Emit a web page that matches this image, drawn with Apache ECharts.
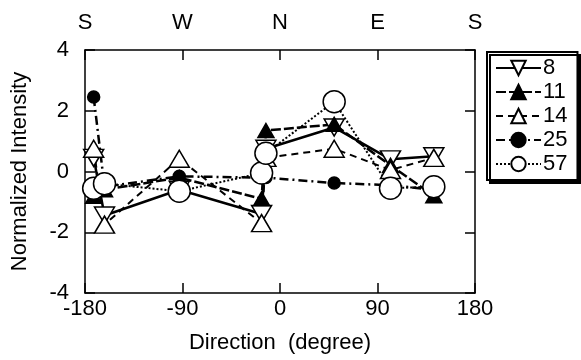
<!DOCTYPE html>
<html>
<head>
<meta charset="utf-8">
<script src="https://cdn.jsdelivr.net/npm/echarts@6/dist/echarts.min.js"></script>
<style>
  html, body { margin: 0; padding: 0; background: #fff; }
  #chart { width: 581px; height: 360px; }
</style>
</head>
<body>
<div id="chart"></div>
<script>
// --- data ---
// two close directions near -15 give the stacked column there
const directions = [-172, -162, -93, -17, -13, 50, 102, 142]
const compass = ['S', 'W', 'N', 'E', 'S']
const yTicks = [-4, -2, 0, 2, 4]

const s8 = [0.45, -1.45, -0.6, -1.4, 0.75, 1.45, 0.4, 0.5]
const s11 = [-0.82, -0.6, -0.2, -0.9, 1.35, 1.55, 0.2, -0.8]
const s14 = [0.75, -1.75, 0.42, -1.7, 0.45, 0.75, 0.05, 0.45]
const s25 = [2.45, -0.5, -0.16, -0.2, -0.2, -0.38, -0.45, -0.6]
const s57 = [-0.55, -0.4, -0.65, -0.05, 0.6, 2.3, -0.55, -0.5]

const FONT = 'Liberation Sans'
const DOWN_TRI = 'path://M0,0 L10,0 L5,9 Z'

// pair each value with its direction
function pairs(vals) {
  return vals.map((v, i) => [directions[i], v])
}

function lineSeries(name, vals, symbol, size, filled, lineType, width) {
  return {
    name: name,
    type: 'line',
    data: pairs(vals),
    symbol: symbol,
    symbolSize: size,
    showAllSymbol: true,
    lineStyle: { color: '#000', width: width, type: lineType },
    itemStyle: {
      color: filled ? '#000' : '#fff',
      borderColor: '#000',
      borderWidth: 1.5
    },
    emphasis: { disabled: true },
    z: 3
  }
}

const chart = echarts.init(document.getElementById('chart'))

const axisCommon = {
  type: 'value',
  min: -180,
  max: 180,
  interval: 90,
  axisLine: { show: true, onZero: false, lineStyle: { color: '#000', width: 1.5 } },
  axisTick: { show: true, inside: true, length: 10, lineStyle: { color: '#000', width: 1.5 } },
  splitLine: { show: false }
}

chart.setOption({
  animation: false,
  backgroundColor: '#fff',
  grid: { left: 85, right: 106, top: 50, bottom: 67 },
  xAxis: [
    Object.assign({}, axisCommon, {
      position: 'bottom',
      name: 'Direction  (degree)',
      nameLocation: 'middle',
      nameGap: 39,
      nameTextStyle: { fontFamily: FONT, fontSize: 22, color: '#000' },
      axisLabel: { fontFamily: FONT, fontSize: 22, color: '#000', margin: 5 }
    }),
    Object.assign({}, axisCommon, {
      position: 'top',
      axisLabel: {
        fontFamily: FONT, fontSize: 22, color: '#000', margin: 16,
        formatter: v => compass[(v + 180) / 90]
      }
    })
  ],
  yAxis: [
    {
      type: 'value',
      min: yTicks[0],
      max: yTicks[yTicks.length - 1],
      interval: 2,
      name: 'Normalized Intensity',
      nameLocation: 'middle',
      nameGap: 54,
      nameTextStyle: { fontFamily: FONT, fontSize: 22, color: '#000' },
      axisLine: { show: true, onZero: false, lineStyle: { color: '#000', width: 1.5 } },
      axisTick: { show: true, inside: true, length: 10, lineStyle: { color: '#000', width: 1.5 } },
      axisLabel: { fontFamily: FONT, fontSize: 22, color: '#000', margin: 16 },
      splitLine: { show: false }
    },
    {
      type: 'value',
      position: 'right',
      min: yTicks[0],
      max: yTicks[yTicks.length - 1],
      interval: 2,
      axisLine: { show: true, onZero: false, lineStyle: { color: '#000', width: 1.5 } },
      axisTick: { show: true, inside: true, length: 10, lineStyle: { color: '#000', width: 1.5 } },
      axisLabel: { show: false },
      splitLine: { show: false }
    }
  ],
  legend: {
    orient: 'vertical',
    left: 487,
    top: 52,
    padding: [5, 10, 5, 8],
    itemWidth: 45,
    itemHeight: 18,
    itemGap: 2,
    backgroundColor: '#fff',
    borderColor: '#000',
    borderWidth: 2,
    shadowColor: '#000',
    shadowOffsetX: 3,
    shadowOffsetY: 3,
    shadowBlur: 0,
    textStyle: { fontFamily: FONT, fontSize: 22, lineHeight: 18, color: '#000', padding: [0, 0, 0, -3] },
    data: ['8', '11', '14', '25', '57']
  },
  series: [
    lineSeries('8', s8, DOWN_TRI, [20, 17], false, 'solid', 2.5),
    lineSeries('11', s11, 'triangle', [16, 14], true, [10, 3], 2.5),
    lineSeries('14', s14, 'triangle', [20, 17], false, [7, 5], 2),
    lineSeries('25', s25, 'circle', 12, true, [9, 4, 2, 4], 2.5),
    lineSeries('57', s57, 'circle', 22, false, [2, 2], 2)
  ]
})
</script>
</body>
</html>
